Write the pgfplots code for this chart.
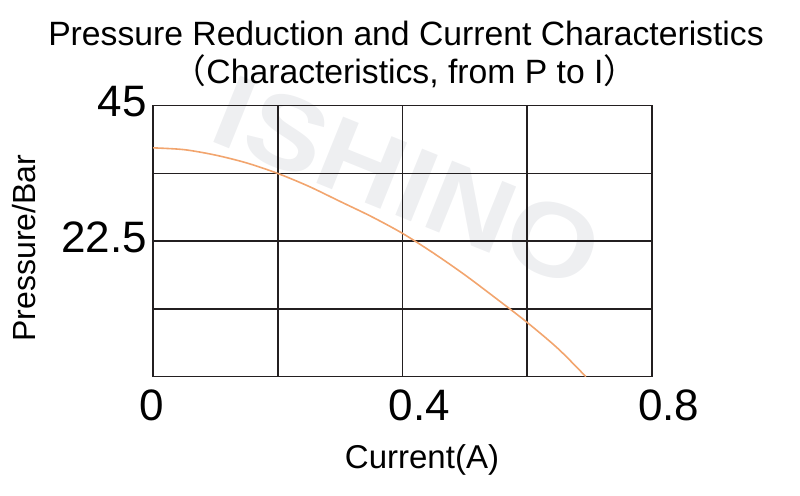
\documentclass[border=0pt]{standalone}
\usepackage{pgfplots}
\pgfplotsset{compat=1.18}
\usepackage{fontspec}
\setmainfont{Liberation Sans}
\newfontfamily\cjk{Noto Sans CJK SC}
\definecolor{gridc}{RGB}{35,31,32}
\definecolor{curvec}{RGB}{242,165,110}
\definecolor{wmark}{RGB}{238,239,241}
\begin{document}
\begin{tikzpicture}
\useasboundingbox (0,0) rectangle (800bp,496bp);
% watermark
\node[text=wmark, font=\fontsize{104bp}{104bp}\selectfont\bfseries, inner sep=0, rotate=-22, xscale=1.13] at (408bp,314bp) {ISHINO};
\begin{axis}[
  at={(153bp,119.3bp)}, anchor=south west,
  scale only axis, width=499bp, height=271bp,
  xmin=0, xmax=0.8, ymin=0, ymax=45,
  xtick={0,0.2,0.4,0.6,0.8}, xticklabels={0,,0.4,,0.8},
  ytick={0,11.25,22.5,33.75,45}, yticklabels={,,22.5,,45},
  major tick length=0pt,
  grid=major,
  grid style={gridc, line width=1.6bp},
  axis line style={gridc, line width=1.6bp},
  tick label style={font=\fontsize{44bp}{44bp}\selectfont, text=black},
  /pgf/number format/assume math mode=true,
  xticklabel style={anchor=north west, inner sep=0pt, xshift=-14bp, yshift=-13bp},
  yticklabel style={anchor=east, inner sep=0pt, xshift=-6bp, yshift=4bp},
]
\addplot[curvec, line width=1.6bp, smooth] coordinates {
(0,38.0) (0.05,37.7) (0.1,36.8) (0.15,35.5) (0.2,33.75) (0.25,31.6) (0.3,29.1)
(0.35,26.6) (0.4,23.8) (0.45,20.5) (0.5,16.9) (0.55,13.0) (0.6,9.0) (0.65,4.6) (0.694,0)
};
\end{axis}
\node[font=\fontsize{33.7bp}{33.7bp}\selectfont] at (406bp,463bp) {Pressure Reduction and Current Characteristics};
\node[font=\fontsize{33.7bp}{33.7bp}\selectfont] at (405bp,425bp) {{\cjk （}Characteristics, from P to I{\cjk ）}};
\node[font=\fontsize{33bp}{33bp}\selectfont] at (422bp,36bp) {Current(A)};
\node[font=\fontsize{32bp}{32bp}\selectfont, rotate=90] at (24bp,248bp) {Pressure/Bar};
\end{tikzpicture}
\end{document}
